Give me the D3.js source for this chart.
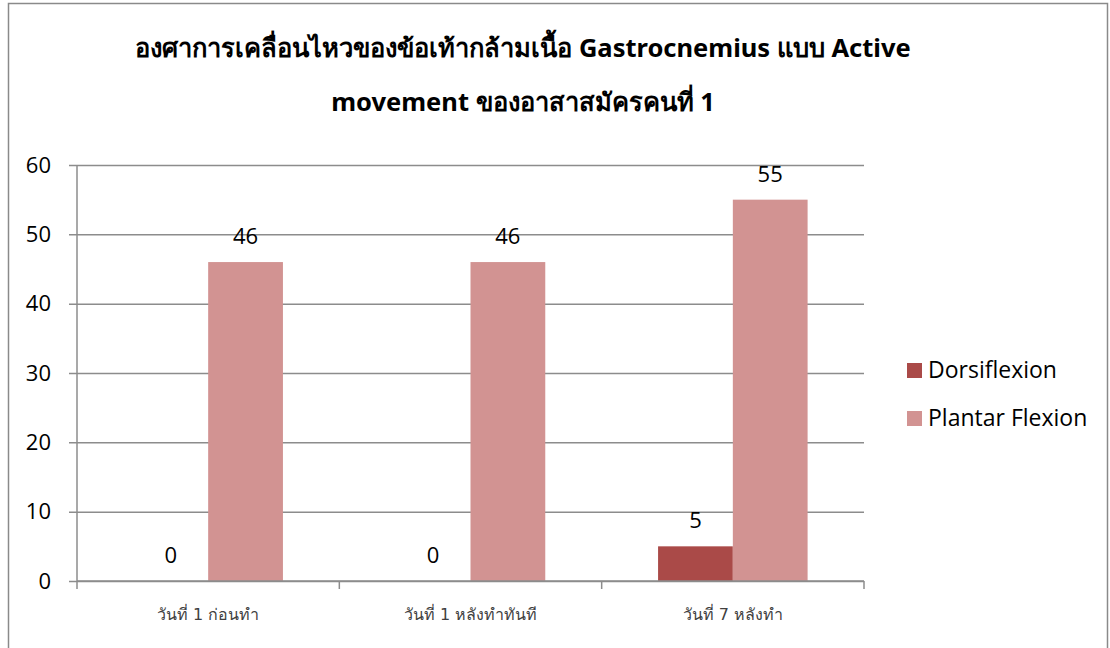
<!doctype html>
<html lang="th">
<head>
<meta charset="utf-8">
<title>องศาการเคลื่อนไหวของข้อเท้า</title>
<script src="https://cdnjs.cloudflare.com/ajax/libs/d3/7.8.5/d3.min.js"></script>
<style>
  body { margin: 0; background: #fff; }
  svg { display: block; }
  .title { font-family: "Noto Sans", "DejaVu Sans", sans-serif; font-weight: bold; font-size: 25.5px; fill: #000; }
  .ytick text { font-family: "Open Sans", "Noto Sans", sans-serif; font-size: 22px; fill: #000; }
  .xlab { font-family: "DejaVu Sans", "Noto Sans", sans-serif; font-size: 16px; fill: #404040; }
  .val { font-family: "Open Sans", "Noto Sans", sans-serif; font-size: 22px; fill: #000; }
  .leg { font-family: "Open Sans", "Noto Sans", sans-serif; font-size: 23px; fill: #000; }
</style>
</head>
<body>
<script>
// data
var categories = ["วันที่ 1 ก่อนทำ", "วันที่ 1 หลังทำทันที", "วันที่ 7 หลังทำ"];
var seriesNames = ["Dorsiflexion", "Plantar Flexion"];
var dorsiflexion = [0, 0, 5];
var plantarFlexion = [46, 46, 55];
var yTicks = [0, 10, 20, 30, 40, 50, 60];
var titleLines = ["องศาการเคลื่อนไหวของข้อเท้ากล้ามเนื้อ Gastrocnemius แบบ Active",
                  "movement ของอาสาสมัครคนที่ 1"];

var colors = ["#aa4a48", "#d29392"];
var width = 1110, height = 648;

var svg = d3.select("body").append("svg")
    .attr("width", width)
    .attr("height", height);

// outer frame
svg.append("rect")
    .attr("x", 8.5).attr("y", 3.5)
    .attr("width", 1099).attr("height", 700)
    .attr("fill", "none")
    .attr("stroke", "#8a8a8a")
    .attr("stroke-width", 1.5);

// title
svg.selectAll("text.title")
    .data(titleLines)
    .join("text")
    .attr("class", "title")
    .attr("x", 523)
    .attr("y", function(d, i) { return 57 + i * 54; })
    .attr("text-anchor", "middle")
    .text(function(d) { return d; });

var plotLeft = 77, plotRight = 864, plotTop = 165, plotBottom = 581;

var x = d3.scaleBand()
    .domain(categories)
    .range([plotLeft, plotRight])
    .paddingInner(0.43)
    .paddingOuter(0.215);

var x1 = d3.scaleBand()
    .domain(seriesNames)
    .range([0, x.bandwidth()]);

var y = d3.scaleLinear()
    .domain([0, 60])
    .range([plotBottom, plotTop]);

// gridlines + y labels
var yAxis = d3.axisLeft(y)
    .tickValues(yTicks)
    .tickSize(-(plotRight - plotLeft) - 8)
    .tickPadding(14)
    .tickFormat(d3.format("d"));

var gy = svg.append("g")
    .attr("class", "ytick")
    .attr("transform", "translate(" + (plotLeft - 8) + ",0)")
    .call(yAxis);
gy.select(".domain").remove();
gy.selectAll(".tick line")
    .attr("stroke", "#8c8c8c")
    .attr("stroke-width", 1.5);
gy.selectAll(".tick text").attr("x", -18);

// y axis line
svg.append("line")
    .attr("x1", plotLeft).attr("x2", plotLeft)
    .attr("y1", plotTop).attr("y2", plotBottom)
    .attr("stroke", "#8c8c8c").attr("stroke-width", 1.5);

// bars
var rows = categories.map(function(c, i) {
    return [
        { cat: c, key: seriesNames[0], value: dorsiflexion[i] },
        { cat: c, key: seriesNames[1], value: plantarFlexion[i] }
    ];
});

var groups = svg.selectAll("g.grp")
    .data(rows)
    .join("g")
    .attr("class", "grp")
    .attr("transform", function(d) { return "translate(" + x(d[0].cat) + ",0)"; });

groups.selectAll("rect")
    .data(function(d) { return d; })
    .join("rect")
    .attr("x", function(d) { return x1(d.key); })
    .attr("width", x1.bandwidth())
    .attr("y", function(d) { return y(d.value); })
    .attr("height", function(d) { return y(0) - y(d.value); })
    .attr("fill", function(d, i) { return colors[i]; });

groups.selectAll("text.val")
    .data(function(d) { return d; })
    .join("text")
    .attr("class", "val")
    .attr("x", function(d) { return x1(d.key) + x1.bandwidth() / 2; })
    .attr("y", function(d) { return y(d.value) - 18; })
    .attr("text-anchor", "middle")
    .text(function(d) { return d.value; });

// x axis
var xAxis = d3.axisBottom(x).tickSize(0).tickFormat("");
var gx = svg.append("g")
    .attr("transform", "translate(0," + plotBottom + ")")
    .call(xAxis);
gx.select(".domain").attr("stroke", "#8c8c8c").attr("stroke-width", 1.5)
    .attr("d", "M" + plotLeft + ",0H" + plotRight);

// boundary ticks between categories
var bounds = [plotLeft].concat(categories.map(function(c) { return x(c) + x.bandwidth() + x.step() * 0.215; }));
svg.selectAll("line.xt")
    .data(bounds)
    .join("line")
    .attr("class", "xt")
    .attr("x1", function(d) { return d; }).attr("x2", function(d) { return d; })
    .attr("y1", plotBottom).attr("y2", plotBottom + 8)
    .attr("stroke", "#8c8c8c").attr("stroke-width", 1.5);

svg.selectAll("text.xlab")
    .data(categories)
    .join("text")
    .attr("class", "xlab")
    .attr("x", function(d) { return x(d) + x.bandwidth() / 2; })
    .attr("y", 620)
    .attr("text-anchor", "middle")
    .text(function(d) { return d; });

// legend
var legend = svg.selectAll("g.legend")
    .data(seriesNames)
    .join("g")
    .attr("class", "legend")
    .attr("transform", function(d, i) { return "translate(907," + (363 + i * 48) + ")"; });
legend.append("rect")
    .attr("width", 15).attr("height", 15)
    .attr("fill", function(d, i) { return colors[i]; });
legend.append("text")
    .attr("class", "leg")
    .attr("x", 21).attr("y", 15)
    .text(function(d) { return d; });
</script>
</body>
</html>
